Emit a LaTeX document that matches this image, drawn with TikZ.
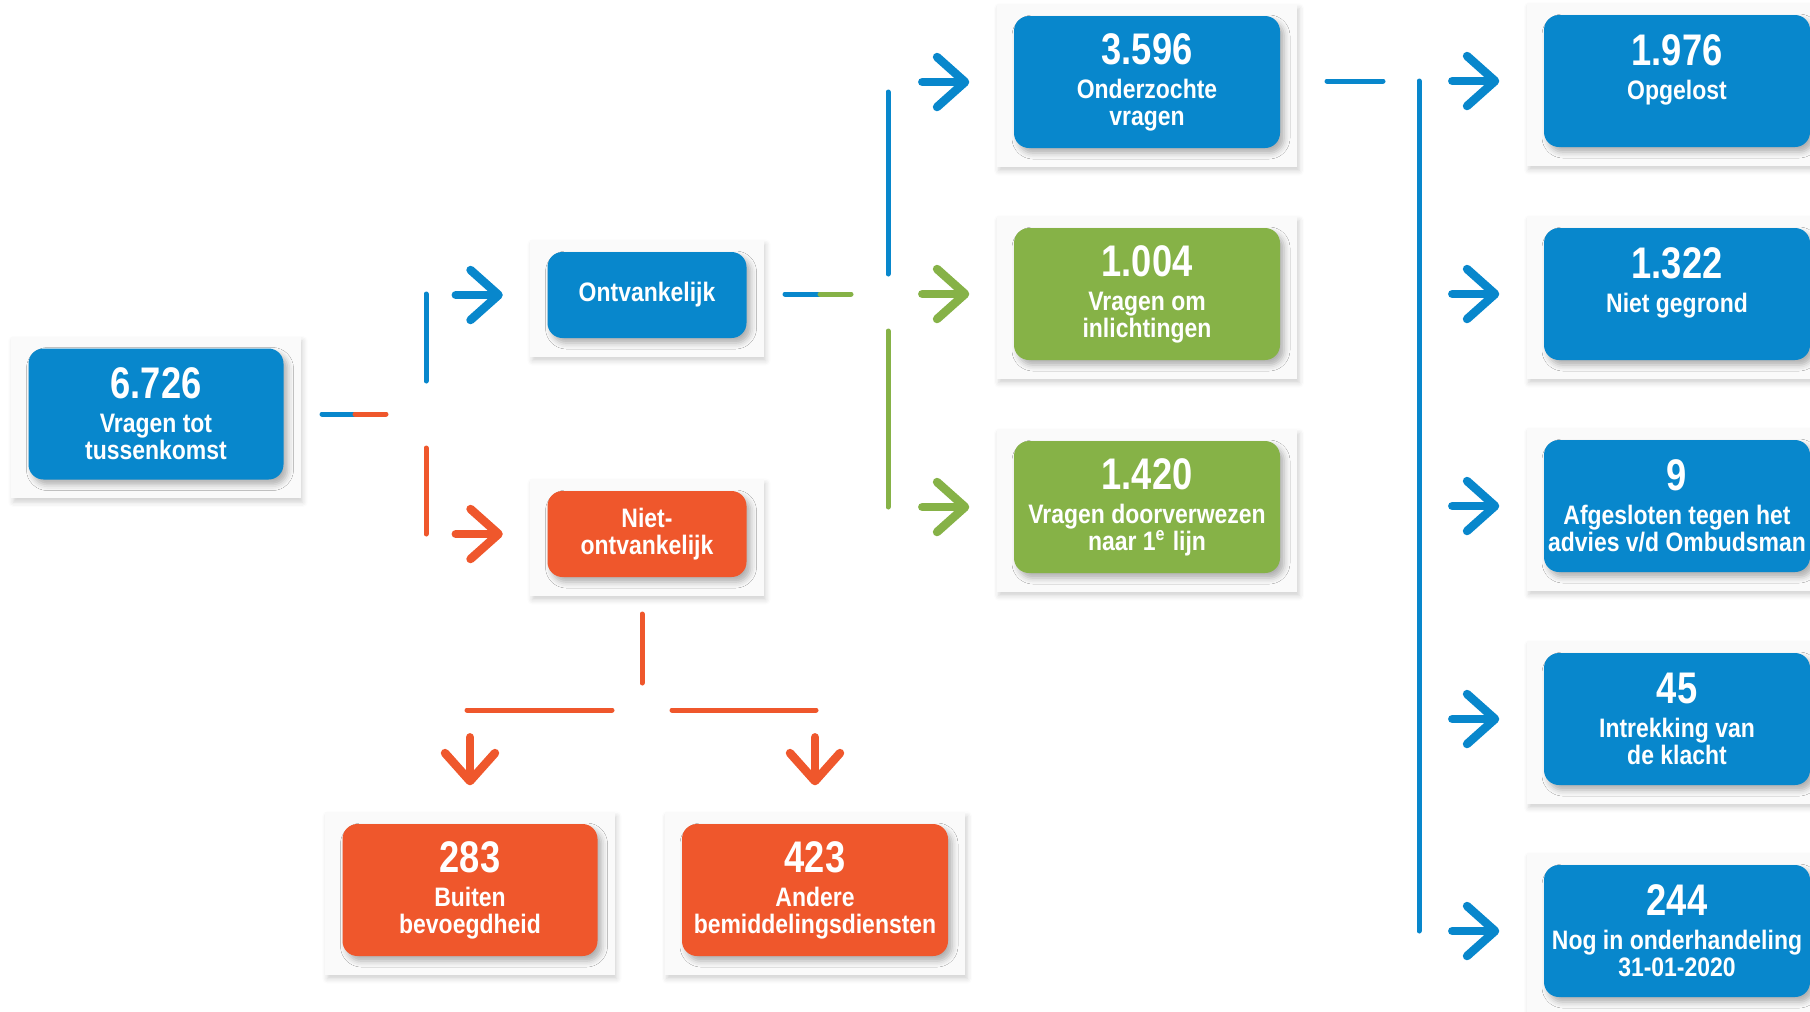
\documentclass[tikz,border=0pt]{standalone}
\usepackage{fontspec}
\newfontfamily\numfont{Liberation Sans}[FakeStretch=0.82]
\newfontfamily\lblfont{Liberation Sans}[FakeStretch=0.86]
\usetikzlibrary{arrows.meta}
\usetikzlibrary{shadows, shadows.blur}
\usetikzlibrary{backgrounds, fit, positioning}
\definecolor{obblue}{RGB}{8,135,204}
\definecolor{oborange}{RGB}{239,87,44}
\definecolor{obgreen}{RGB}{134,178,71}
\newcommand\bignum[1]{{\numfont\bfseries\fontsize{12.6}{14}\selectfont #1}}
\tikzset{
    box/.style={
        rounded corners=1.5mm, text=white, align=center, inner sep=0pt,
        font=\lblfont\bfseries\fontsize{7.6}{7.7}\selectfont,
        blur shadow={shadow xshift=0.4mm, shadow yshift=-0.5mm, shadow blur radius=0.6mm, shadow opacity=30}
    },
    bigbox/.style={box, minimum width=26.6mm, minimum height=13.2mm},
    smallbox/.style={box, minimum width=19.9mm, minimum height=8.6mm},
    card/.style={
        fill=black!2, inner xsep=1.65mm, inner ysep=1.45mm, yshift=-0.35mm,
        blur shadow={shadow xshift=0.2mm, shadow yshift=-0.4mm, shadow blur radius=0.5mm, shadow opacity=18}
    },
    cline/.style={line width=0.5mm, line cap=round},
    farrow/.style={line width=0.85mm, line cap=round, shorten >=4.4mm,
        -{Straight Barb[length=2.8mm, width=5mm, round]}}
}

\begin{document}
\begin{tikzpicture}[x=0.1mm, y=-0.1mm]
    \useasboundingbox (0,0) rectangle (1810,1011);
    % boxes
    \node[bigbox, fill=obblue, minimum width=25.5mm, minimum height=13.1mm] (tot) at (156,414)
        {\bignum{6.726}\\[2pt]Vragen tot\\tussenkomst};
    \node[smallbox, fill=obblue] (ont) at (647,295) {Ontvankelijk};
    \node[smallbox, fill=oborange] (niet) at (647,534) {Niet-\\ontvankelijk};
    \node[bigbox, fill=obblue] (ond) at (1147,82) {\bignum{3.596}\\[2pt]Onderzochte\\vragen};
    \node[bigbox, fill=obgreen] (inl) at (1147,294) {\bignum{1.004}\\[2pt]Vragen om\\inlichtingen};
    \node[bigbox, fill=obgreen] (door) at (1147,507)
        {\bignum{1.420}\\[2pt]Vragen doorverwezen\\naar 1\textsuperscript{e} lijn};
    \node[bigbox, fill=obblue] (opg) at (1677,81) {\bignum{1.976}\\[2pt]Opgelost\\~};
    \node[bigbox, fill=obblue] (ngr) at (1677,294) {\bignum{1.322}\\[2pt]Niet gegrond\\~};
    \node[bigbox, fill=obblue] (afg) at (1677,506) {\bignum{9}\\[2pt]Afgesloten tegen het\\advies v/d Ombudsman};
    \node[bigbox, fill=obblue] (intr) at (1677,719) {\bignum{45}\\[2pt]Intrekking van\\de klacht};
    \node[bigbox, fill=obblue] (nog) at (1677,931) {\bignum{244}\\[2pt]Nog in onderhandeling\\31-01-2020};
    \node[bigbox, fill=oborange, minimum width=25.5mm] (buit) at (470,890) {\bignum{283}\\[2pt]Buiten\\bevoegdheid};
    \node[bigbox, fill=oborange] (andr) at (815,890) {\bignum{423}\\[2pt]Andere\\bemiddelingsdiensten};
    % cards behind the boxes
    \begin{scope}[on background layer]
        \foreach \n in {tot,ont,niet,ond,inl,door,opg,ngr,afg,intr,nog,buit,andr}
            \node[card, fit=(\n)] {};
    \end{scope}
    % split lines
    \coordinate (t1) at (322,414);
    \coordinate (t2) at (355,414);
    \coordinate (t3) at (386,414);
    \coordinate (v1) at (426,294);
    \coordinate (v2) at (426,381);
    \coordinate (v3) at (426,448);
    \coordinate (v4) at (426,534);
    \coordinate (o1) at (785,294);
    \coordinate (o2) at (820,294);
    \coordinate (o3) at (851,294);
    \coordinate (w1) at (888,92);
    \coordinate (w2) at (888,274);
    \coordinate (w3) at (888,331);
    \coordinate (w4) at (888,507);
    \coordinate (u1) at (1327,81);
    \coordinate (u2) at (1383,81);
    \coordinate (u3) at (1419,81);
    \coordinate (u4) at (1419,931);
    \coordinate (n1) at (642,614);
    \coordinate (n2) at (642,683);
    \coordinate (n3) at (467,710);
    \coordinate (n4) at (612,710);
    \coordinate (n5) at (672,710);
    \coordinate (n6) at (816,710);
    \draw[cline, obblue] (t1) -- (t2);
    \draw[cline, oborange] (t2) -- (t3);
    \draw[cline, obblue] (v1) -- (v2);
    \draw[cline, oborange] (v3) -- (v4);
    \draw[cline, obblue] (o1) -- (o2);
    \draw[cline, obgreen] (o2) -- (o3);
    \draw[cline, obblue] (w1) -- (w2);
    \draw[cline, obgreen] (w3) -- (w4);
    \draw[cline, obblue] (u1) -- (u2);
    \draw[cline, obblue] (u3) -- (u4);
    \draw[cline, oborange] (n1) -- (n2);
    \draw[cline, oborange] (n3) -- (n4);
    \draw[cline, oborange] (n5) -- (n6);
    % arrows
    \foreach \n/\c in {ont/obblue, niet/oborange, ond/obblue, inl/obgreen, door/obgreen,
                       opg/obblue, ngr/obblue, afg/obblue, intr/obblue, nog/obblue}
    {
        \coordinate[left=9.1mm of \n] (\n-in);
        \draw[farrow, \c] (\n-in) -- (\n.west);
    }
    \foreach \n in {buit,andr}
    {
        \coordinate[above=8.6mm of \n] (\n-in);
        \draw[farrow, oborange, shorten >=3.8mm] (\n-in) -- (\n.north);
    }
\end{tikzpicture}
\end{document}
